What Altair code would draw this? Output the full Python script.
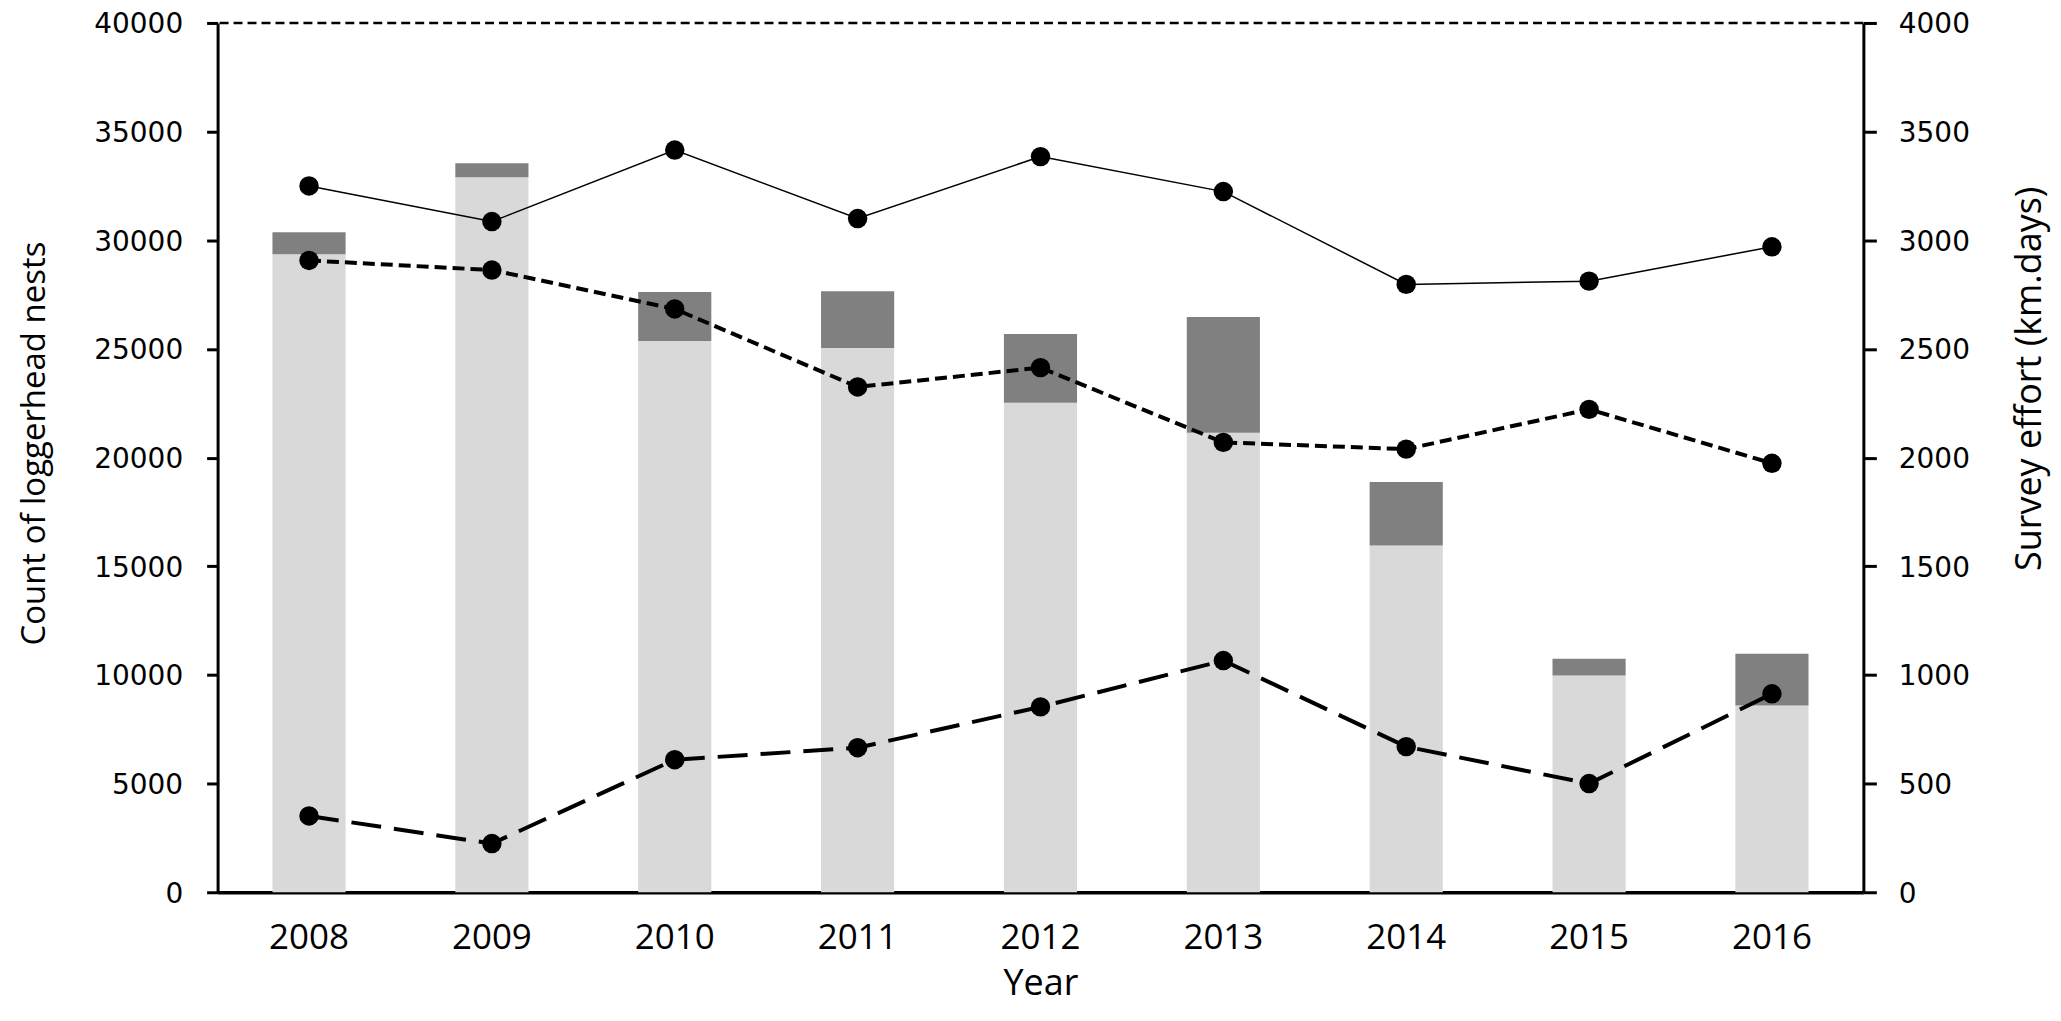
import altair as alt
import pandas as pd

years = ["2008", "2009", "2010", "2011", "2012", "2013", "2014", "2015", "2016"]
nests_light = [29360, 32900, 25370, 25040, 22520, 21140, 15950, 9970, 8590]
nests_total = [30370, 33540, 27620, 27660, 25690, 26470, 18880, 10750, 10980]
effort_solid = [3250, 3086, 3415, 3100, 3385, 3224, 2797, 2812, 2970]
series_short_dash = [29070, 28630, 26840, 23250, 24140, 20700, 20390, 22220, 19740]
series_long_dash = [3510, 2240, 6100, 6650, 8530, 10660, 6700, 5000, 9130]
left_ticks = [0, 5000, 10000, 15000, 20000, 25000, 30000, 35000, 40000]
right_ticks = [0, 500, 1000, 1500, 2000, 2500, 3000, 3500, 4000]

df = pd.DataFrame({
    "year": years,
    "light": nests_light,
    "total": nests_total,
    "solid": effort_solid,
    "short": series_short_dash,
    "long": series_long_dash,
})
top_df = pd.DataFrame({"top": [left_ticks[-1]]})

left_scale = alt.Scale(domain=[0, 40000], nice=False, zero=True)
right_scale = alt.Scale(domain=[0, 4000], nice=False, zero=True)

X = alt.X(
    "year:N",
    sort=years,
    scale=alt.Scale(paddingInner=0.6, paddingOuter=0.3),
    axis=alt.Axis(
        title="Year", ticks=False, labelAngle=0, domainWidth=3.5, domainColor="black",
        labelFont="Open Sans", labelFontSize=35, labelPadding=28, labelColor="black",
        titleFont="Open Sans", titleFontSize=36, titleFontWeight="normal",
        titlePadding=11, titleColor="black",
    ),
)

left_axis = alt.Axis(
    orient="left", values=left_ticks, format="d", grid=False, domainWidth=3, domainColor="black",
    tickWidth=3, tickSize=11, tickColor="black",
    labelFont="DejaVu Sans", labelFontSize=28, labelPadding=24, labelColor="black", labelOffset=2,
    title="Count of loggerhead nests", titleFont="Open Sans", titleFontSize=33,
    titleFontWeight="normal", titleColor="black",
    titleX=-183, titleY=421, titleAngle=270, titleAlign="center", titleBaseline="middle",
)
right_axis = alt.Axis(
    orient="right", values=right_ticks, format="d", grid=False, domainWidth=3, domainColor="black",
    tickWidth=3, tickSize=13, tickColor="black",
    labelFont="DejaVu Sans", labelFontSize=28, labelPadding=22, labelColor="black", labelOffset=2,
    title="Survey effort (km.days)", titleFont="Open Sans", titleFontSize=36,
    titleFontWeight="normal", titleColor="black",
    titleX=166, titleY=356, titleAngle=270, titleAlign="center", titleBaseline="middle",
)

base = alt.Chart(df)

light_bars = base.mark_bar(color="#d9d9d9").encode(
    x=X, y=alt.Y("light:Q", scale=left_scale, axis=left_axis, stack=None)
)
dark_bars = base.mark_bar(color="#808080").encode(
    x=X, y=alt.Y("light:Q", scale=left_scale, axis=None, stack=None), y2="total:Q"
)
top_rule = alt.Chart(top_df).mark_rule(color="black", strokeWidth=2.5, strokeDash=[9, 5]).encode(
    y=alt.Y("top:Q", scale=left_scale, axis=None)
)

short_line = base.mark_line(color="black", strokeWidth=4, strokeDash=[12, 6]).encode(
    x=X, y=alt.Y("short:Q", scale=left_scale, axis=None)
)
short_pts = base.mark_point(filled=True, color="black", size=380, opacity=1, shape="circle").encode(
    x=X, y=alt.Y("short:Q", scale=left_scale, axis=None)
)
long_line = base.mark_line(color="black", strokeWidth=4, strokeDash=[30, 13]).encode(
    x=X, y=alt.Y("long:Q", scale=left_scale, axis=None)
)
long_pts = base.mark_point(filled=True, color="black", size=380, opacity=1, shape="circle").encode(
    x=X, y=alt.Y("long:Q", scale=left_scale, axis=None)
)
solid_line = base.mark_line(color="black", strokeWidth=1.5).encode(
    x=X, y=alt.Y("solid:Q", scale=right_scale, axis=right_axis)
)
solid_pts = base.mark_point(filled=True, color="black", size=380, opacity=1, shape="circle").encode(
    x=X, y=alt.Y("solid:Q", scale=right_scale, axis=None)
)

chart = alt.layer(
    light_bars, dark_bars, top_rule, short_line, long_line, short_pts, long_pts, solid_line, solid_pts
).resolve_scale(y="independent").properties(
    width=1649, height=871,
    autosize=alt.AutoSizeParams(type="none"),
    padding={"left": 210, "top": 14, "right": 190, "bottom": 120},
    background="white",
).configure_view(stroke=None)

chart.save("out.html", embed_options={"renderer": "svg", "actions": False})
